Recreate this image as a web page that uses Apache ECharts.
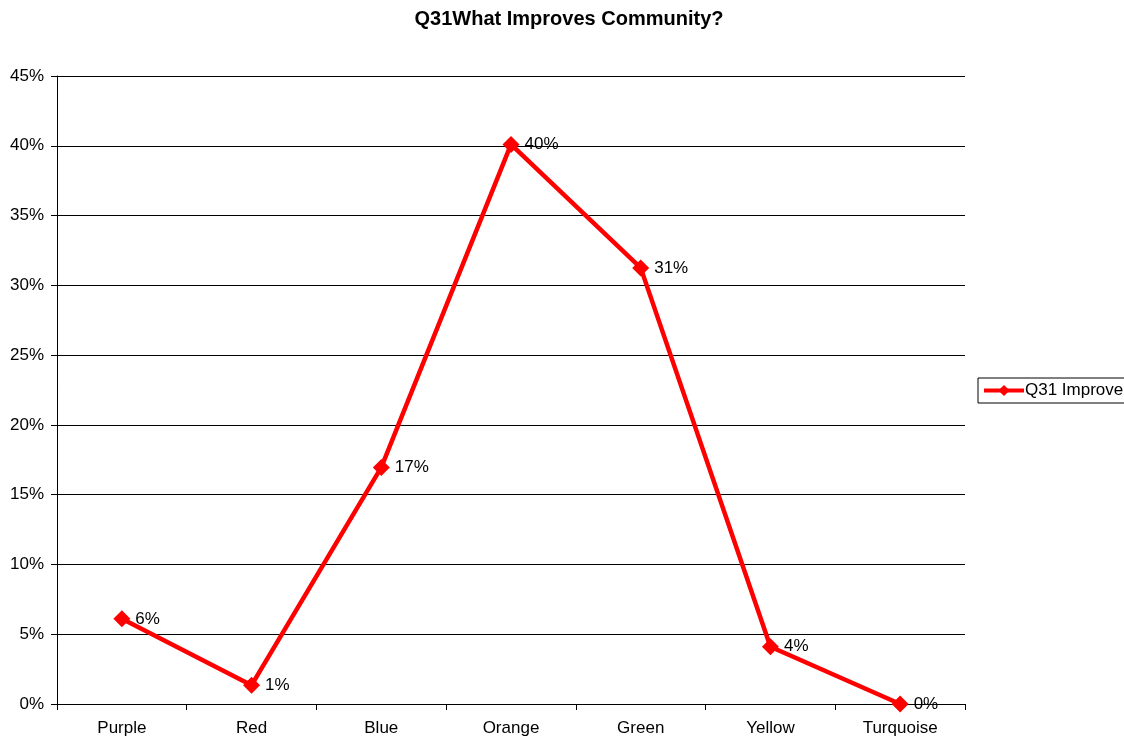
<!DOCTYPE html>
<html>
<head>
<meta charset="utf-8">
<script src="https://cdn.jsdelivr.net/npm/echarts@6/dist/echarts.min.js"></script>
<style>
  html, body { margin: 0; padding: 0; background: #fff; }
  #chart { width: 1124px; height: 738px; }
</style>
</head>
<body>
<div id="chart"></div>
<script>
// Survey responses for Q31, in percent
const categories = ['Purple', 'Red', 'Blue', 'Orange', 'Green', 'Yellow', 'Turquoise'];
const improveValues = [6.1, 1.35, 16.95, 40.1, 31.25, 4.1, 0];
const seriesName = 'Q31 Improve';
const titleText = 'Q31What Improves Community?';

const chart = echarts.init(document.getElementById('chart'));
const font = 'Liberation Sans, Arial, sans-serif';

chart.setOption({
  backgroundColor: '#fff',
  animation: false,
  title: {
    text: titleText,
    left: 564,
    textAlign: 'center',
    top: 4,
    textStyle: { fontFamily: font, fontSize: 20, fontWeight: 'bold', color: '#000' }
  },
  legend: {
    data: [seriesName],
    left: 978,
    top: 378,
    orient: 'vertical',
    padding: [4, 6, 4, 4],
    borderColor: '#000',
    borderWidth: 1,
    borderRadius: 0,
    itemWidth: 40,
    itemHeight: 14,
    itemGap: 0,
    lineStyle: { width: 4 },
    textStyle: { fontFamily: font, fontSize: 17, color: '#000', padding: [0, 0, 0, -4] }
  },
  grid: { left: 57, right: 159, top: 76, bottom: 34, containLabel: false },
  xAxis: {
    type: 'category',
    data: categories,
    boundaryGap: true,
    axisLine: { lineStyle: { color: '#000', width: 1 } },
    axisTick: { show: true, length: 6, inside: false, lineStyle: { color: '#000' } },
    axisLabel: { fontFamily: font, fontSize: 17, color: '#000', margin: 16 }
  },
  yAxis: {
    type: 'value',
    min: 0,
    max: 45,
    interval: 5,
    axisLine: { show: true, lineStyle: { color: '#000', width: 1 } },
    axisTick: { show: true, length: 6, lineStyle: { color: '#000' } },
    axisLabel: { fontFamily: font, fontSize: 17, color: '#000', margin: 13, formatter: '{value}%' },
    splitLine: { show: true, lineStyle: { color: '#000', width: 1 } }
  },
  series: [{
    name: seriesName,
    type: 'line',
    data: improveValues,
    symbol: 'diamond',
    symbolSize: 17,
    lineStyle: { color: '#ff0000', width: 4.5 },
    itemStyle: { color: '#ff0000' },
    label: {
      show: true,
      position: 'right',
      distance: 5,
      fontFamily: font,
      fontSize: 17,
      color: '#000',
      formatter: p => Math.round(p.value) + '%'
    }
  }]
});
</script>
</body>
</html>
